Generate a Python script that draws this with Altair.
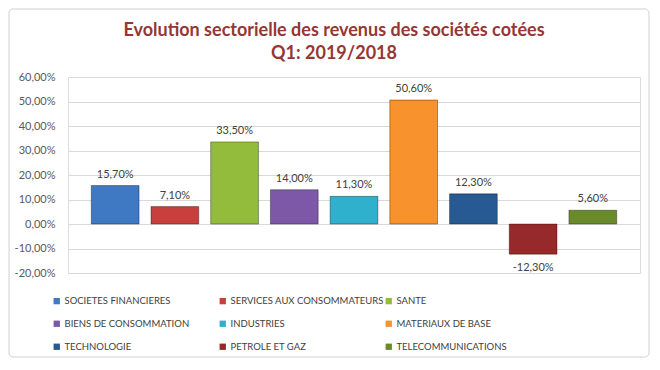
import altair as alt
import pandas as pd

categories = [
    "SOCIETES FINANCIERES",
    "SERVICES AUX CONSOMMATEURS",
    "SANTE",
    "BIENS DE CONSOMMATION",
    "INDUSTRIES",
    "MATERIAUX DE BASE",
    "TECHNOLOGIE",
    "PETROLE ET GAZ",
    "TELECOMMUNICATIONS",
]
values = [15.7, 7.1, 33.5, 14.0, 11.3, 50.6, 12.3, -12.3, 5.6]
colors = ["#3f78c3", "#c8403d", "#94bc3c", "#7d57a8", "#2fb0cc",
          "#f7922d", "#275a92", "#962a2a", "#6b8b2a"]
y_ticks = [-20, -10, 0, 10, 20, 30, 40, 50, 60]
title_lines = ["Evolution sectorielle des revenus des sociétés cotées", "Q1: 2019/2018"]

df = pd.DataFrame({"cat": categories, "val": values})

W, H = 572, 196
PL, PT, PR, PB = 60, 69, 10, 85

fmt = "replace(replace(format({v}/100,'.2%'),'.',','),'\u2212','-')"

base = alt.Chart(df).transform_calculate(
    label=fmt.format(v="datum.val")
)

x_enc = alt.X("cat:N", sort=categories, axis=None,
              scale=alt.Scale(paddingInner=0.2, paddingOuter=0.39))
y_enc = alt.Y("val:Q", title=None,
              scale=alt.Scale(domain=[-20, 60], nice=False, zero=False),
              axis=alt.Axis(values=y_ticks, labelExpr=fmt.format(v="datum.value"),
                            grid=True, gridColor="#d9d9d9", domain=False, ticks=False,
                            labelPadding=13, labelColor="#595959", labelFont="Lato",
                            labelFontSize=11, labelOverlap=False))

bars = base.mark_bar(stroke="black", strokeOpacity=0.35, strokeWidth=1).encode(
    x=x_enc,
    y=y_enc,
    y2=alt.datum(0),
    color=alt.Color("cat:N", sort=categories,
                    scale=alt.Scale(domain=categories, range=colors),
                    legend=alt.Legend(title=None, orient="none", legendX=-16, legendY=219,
                                      direction="horizontal",
                                      columns=3, symbolType="square", symbolSize=40,
                                      symbolStrokeWidth=0,
                                      labelFont="Lato", labelFontSize=9.5,
                                      labelColor="#404040", rowPadding=12, columnPadding=-4,
                                      gridAlign="all", labelLimit=300, labelOffset=3)),
)

pos_text = base.transform_filter("datum.val >= 0").mark_text(
    baseline="bottom", dy=-6, font="Lato", fontSize=11, color="#404040"
).encode(x=x_enc, y=y_enc, text="label:N")

neg_text = base.transform_filter("datum.val < 0").mark_text(
    baseline="top", dy=8, font="Lato", fontSize=11, color="#404040"
).encode(x=x_enc, y=y_enc, text="label:N")

border = alt.Chart(pd.DataFrame({"a": [0]})).mark_rect(
    fill=None, stroke="#d0d0d0", strokeWidth=1, cornerRadius=4
).encode(x=alt.value(-PL + 1), x2=alt.value(W + PR - 1),
         y=alt.value(-PT + 1), y2=alt.value(H + PB - 1))

chart = alt.layer(border, bars, pos_text, neg_text).properties(
    width=W, height=H,
    padding={"left": PL, "top": PT, "right": PR, "bottom": PB},
    autosize=alt.AutoSizeParams(type="none"),
    title=alt.TitleParams(title_lines, color="#953735", font="Lato", fontSize=18,
                          fontWeight="bold", anchor="middle", dx=-20, dy=62, offset=8,
                          lineHeight=23),
).configure_view(stroke=None).configure(background="white")

chart.save("out.html", embed_options={"renderer": "svg", "actions": False})
